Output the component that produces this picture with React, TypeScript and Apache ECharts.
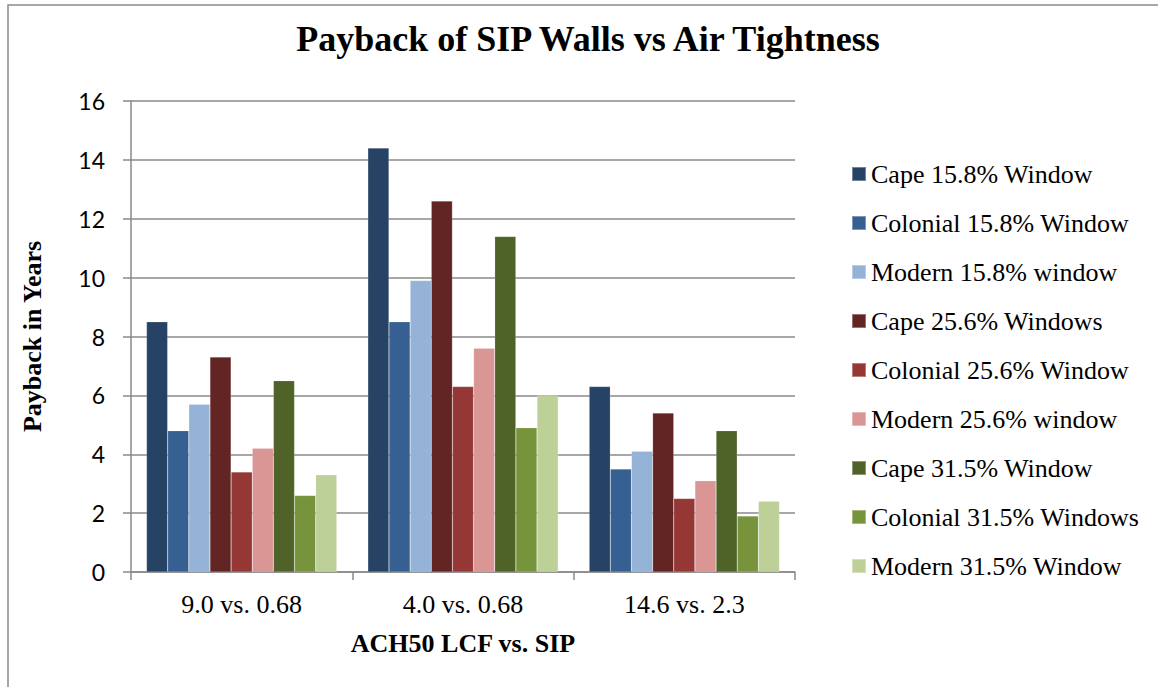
import React, { useEffect, useRef } from "react";
import * as echarts from "echarts";

const categories = ["9.0 vs. 0.68", "4.0 vs. 0.68", "14.6 vs. 2.3"];
const seriesNames = [
  "Cape 15.8% Window",
  "Colonial 15.8% Window",
  "Modern 15.8% window",
  "Cape 25.6% Windows",
  "Colonial 25.6% Window",
  "Modern 25.6% window",
  "Cape 31.5% Window",
  "Colonial 31.5% Windows",
  "Modern 31.5% Window",
];
const cape158 = [8.5, 14.4, 6.3];
const colonial158 = [4.8, 8.5, 3.5];
const modern158 = [5.7, 9.9, 4.1];
const cape256 = [7.3, 12.6, 5.4];
const colonial256 = [3.4, 6.3, 2.5];
const modern256 = [4.2, 7.6, 3.1];
const cape315 = [6.5, 11.4, 4.8];
const colonial315 = [2.6, 4.9, 1.9];
const modern315 = [3.3, 6.0, 2.4];
const seriesValues = [
  cape158,
  colonial158,
  modern158,
  cape256,
  colonial256,
  modern256,
  cape315,
  colonial315,
  modern315,
];
const colors = [
  "#264264",
  "#366092",
  "#95B3D7",
  "#632523",
  "#953735",
  "#D99694",
  "#4F6228",
  "#77933C",
  "#BDD097",
];

const SERIF = "Liberation Serif";
const SANS = "Lato";

export default function App() {
  const ref = useRef<HTMLDivElement>(null);
  useEffect(() => {
    if (!ref.current) return;
    const chart = echarts.init(ref.current, undefined, { renderer: "svg" });
    chart.setOption({
      animation: false,
      backgroundColor: "#ffffff",
      title: {
        text: "Payback of SIP Walls vs Air Tightness",
        left: 583,
        textAlign: "center",
        top: 16,
        textStyle: {
          fontFamily: SERIF,
          fontWeight: "bold",
          fontSize: 36,
          color: "#000",
        },
      },
      graphic: [
        {
          type: "rect",
          shape: { x: 8, y: 5, width: 1400, height: 900 },
          style: { fill: "none", stroke: "#8a8a8a", lineWidth: 1.5 },
          silent: true,
        },
      ],
      legend: {
        orient: "vertical",
        left: 846,
        top: 156,
        itemWidth: 14,
        itemHeight: 14,
        itemGap: 23,
        icon: "rect",
        data: seriesNames,
        textStyle: {
          fontFamily: SERIF,
          fontSize: 26,
          lineHeight: 26,
          color: "#000",
        },
      },
      grid: {
        left: 131,
        right: 1158 - 795,
        top: 101,
        bottom: 687 - 572,
        containLabel: false,
      },
      xAxis: {
        type: "category",
        data: categories,
        name: "ACH50 LCF vs. SIP",
        nameLocation: "middle",
        nameGap: 58,
        nameTextStyle: {
          fontFamily: SERIF,
          fontWeight: "bold",
          fontSize: 26,
          color: "#000",
        },
        axisLine: { show: true, lineStyle: { color: "#8a8a8a", width: 1.5 } },
        axisTick: {
          show: true,
          alignWithLabel: false,
          length: 8,
          lineStyle: { color: "#8a8a8a", width: 1.5 },
        },
        axisLabel: {
          margin: 19,
          fontFamily: SERIF,
          fontSize: 26,
          color: "#000",
        },
      },
      yAxis: {
        type: "value",
        min: 0,
        max: 16,
        interval: 2,
        name: "Payback in Years",
        nameLocation: "middle",
        nameGap: 86,
        nameTextStyle: {
          fontFamily: SERIF,
          fontWeight: "bold",
          fontSize: 26,
          color: "#000",
        },
        axisLine: { show: true, lineStyle: { color: "#8a8a8a", width: 1.5 } },
        axisTick: {
          show: true,
          length: 8,
          lineStyle: { color: "#8a8a8a", width: 1.5 },
        },
        axisLabel: {
          margin: 26,
          fontFamily: SANS,
          fontSize: 23,
          color: "#000",
        },
        splitLine: { show: true, lineStyle: { color: "#8a8a8a", width: 1.5 } },
      },
      series: seriesNames.map((name, i) => ({
        name,
        type: "bar",
        data: seriesValues[i],
        barGap: "0%",
        barCategoryGap: "14%",
        itemStyle: {
          color: colors[i],
          borderColor: "rgba(255,255,255,0.35)",
          borderWidth: 0.5,
        },
      })),
    });
    return () => chart.dispose();
  }, []);
  return (
    <div
      ref={ref}
      style={{ position: "fixed", left: 0, top: 0, width: 1158, height: 687 }}
    />
  );
}
